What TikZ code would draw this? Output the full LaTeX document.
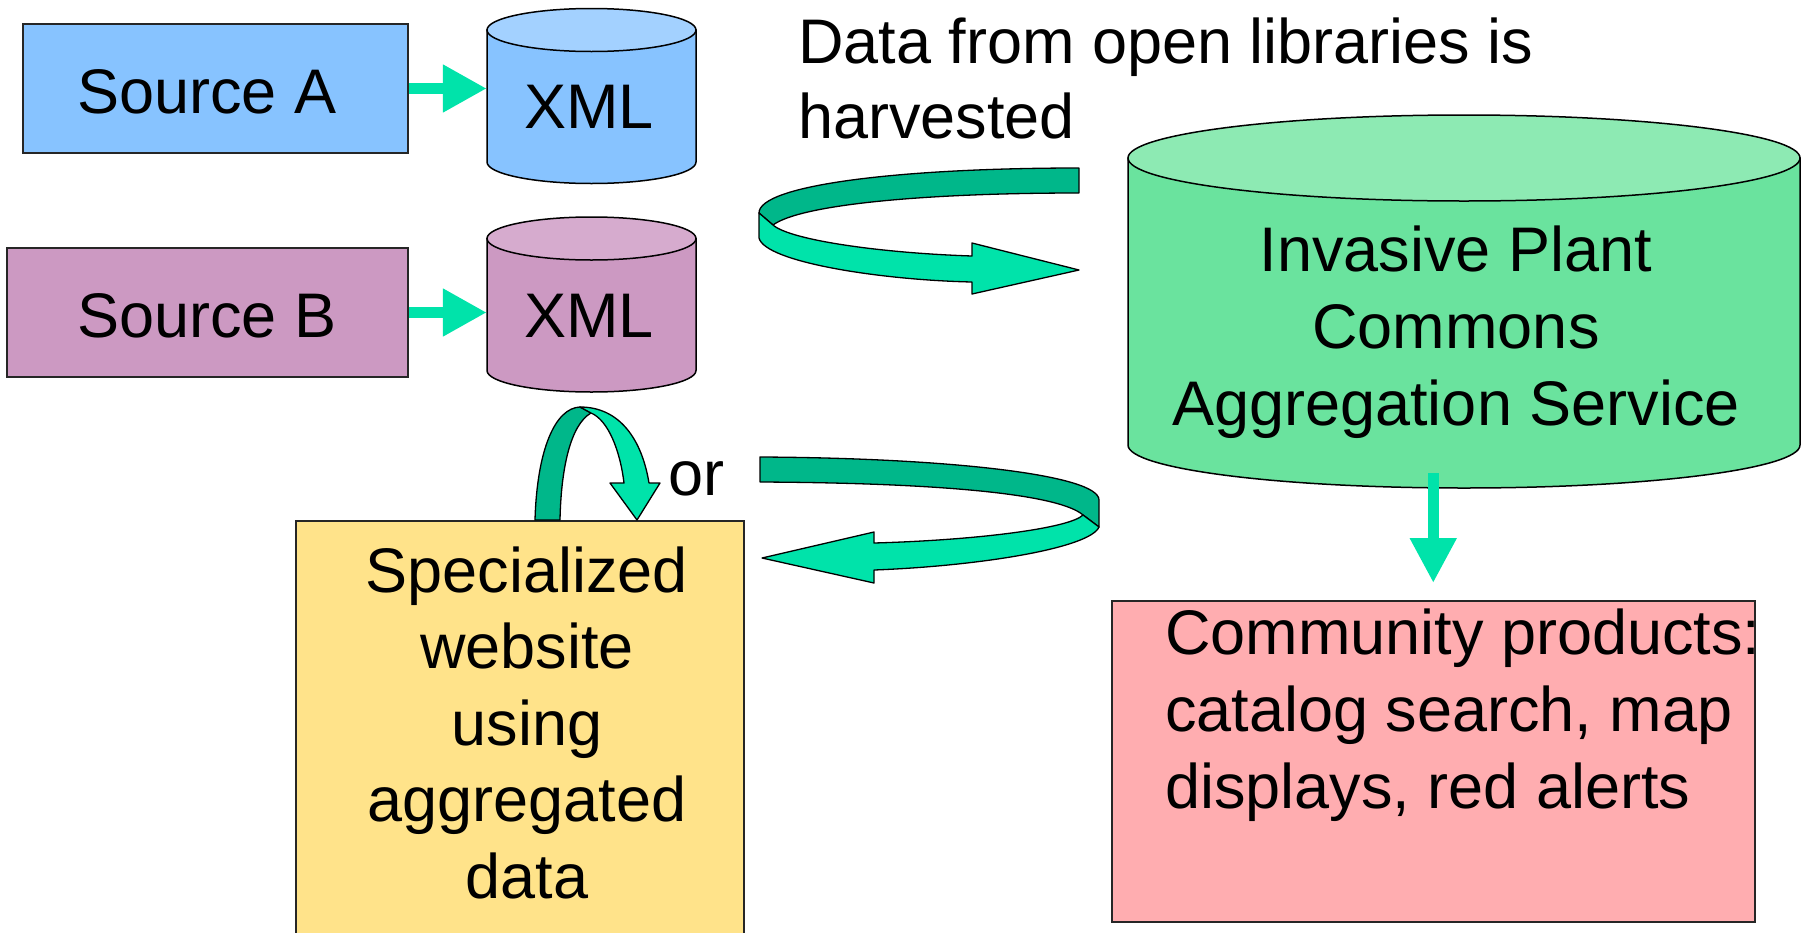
\documentclass[tikz,border=0pt]{standalone}
\usepackage{fontspec}
\setmainfont{Liberation Sans}
\usetikzlibrary{arrows.meta}
\definecolor{srcAcol}{HTML}{87C3FF}
\definecolor{srcAtop}{HTML}{A3D1FF}
\definecolor{srcBcol}{HTML}{CC99C2}
\definecolor{srcBtop}{HTML}{D6ABCE}
\definecolor{bigbody}{HTML}{6AE39E}
\definecolor{bigtop}{HTML}{8DEAB3}
\definecolor{commcol}{HTML}{FFADB0}
\definecolor{speccol}{HTML}{FFE38A}
\definecolor{arrowlight}{HTML}{00E3AA}
\definecolor{arrowdark}{HTML}{00B78A}
\begin{document}
\begin{tikzpicture}[x=1pt,y=1pt,
  box/.style={draw=black!85, line width=1.5pt, rectangle, inner sep=0pt},
  txt/.style={font=\fontsize{63}{77}\selectfont, inner sep=0pt, text=black},
  anchorbox/.style={inner sep=0pt, draw=none},
  cylout/.style={draw=black, line width=1.5pt},
  flatarrow/.style={draw=arrowlight, line width=11pt, -{Triangle[length=44pt,width=45pt]}},
  ribbon/.style={draw=black, line width=1.3pt, line join=round},
]
\useasboundingbox (0,0) rectangle (1804,-932);

% rectangles
\node[box, fill=srcAcol, minimum width=385pt, minimum height=129pt] (srcA) at (215.5,-88.5) {};
\node[box, fill=srcBcol, minimum width=401pt, minimum height=129pt] (srcB) at (207.5,-312.5) {};
\node[box, fill=speccol, minimum width=448pt, minimum height=440pt, anchor=north west] (spec) at (295,-520) {};
\node[box, fill=commcol, minimum width=643pt, minimum height=321pt, anchor=north west] (comm) at (1111,-600) {};

% cylinders (named frames + drawn shapes)
\node[anchorbox, minimum width=209pt, minimum height=175pt] (xmlA) at (591.5,-96) {};
\filldraw[cylout, fill=srcAcol] (487,-30) -- (487,-162) arc[start angle=180,end angle=360,x radius=104.5,y radius=21.5] -- (696,-30) -- cycle;
\filldraw[cylout, fill=srcAtop] (591.5,-30) ellipse[x radius=104.5, y radius=21.5];

\node[anchorbox, minimum width=209pt, minimum height=175pt] (xmlB) at (591.5,-304) {};
\filldraw[cylout, fill=srcBcol] (487,-238.5) -- (487,-370.5) arc[start angle=180,end angle=360,x radius=104.5,y radius=21.5] -- (696,-238.5) -- cycle;
\filldraw[cylout, fill=srcBtop] (591.5,-238.5) ellipse[x radius=104.5, y radius=21.5];

\node[anchorbox, minimum width=672pt, minimum height=373pt] (agg) at (1464,-301.5) {};
\filldraw[cylout, fill=bigbody] (1128,-158) -- (1128,-445) arc[start angle=180,end angle=360,x radius=336,y radius=43] -- (1800,-158) -- cycle;
\filldraw[cylout, fill=bigtop] (1464,-158) ellipse[x radius=336, y radius=43];

% straight arrows
\draw[flatarrow] (srcA.east) -- (srcA.east -| xmlA.west);
\draw[flatarrow] (srcB.east) -- (srcB.east -| xmlB.west);
\draw[flatarrow, -{Triangle[length=45pt,width=44pt]}] (comm.north |- 0,-473) -- ([yshift=17pt]comm.north);

% ribbon arrow: harvested into the aggregation service
\path[ribbon, fill=arrowdark] (1079,-168) .. controls (900,-168) and (759,-185) .. (759,-213) -- (773,-225) .. controls (800,-205) and (920,-193) .. (1079,-193) -- cycle;
\path[ribbon, fill=arrowlight] (759,-213) -- (759,-238) .. controls (765,-262) and (880,-280) .. (972,-282) -- (972,-294) -- (1079,-270) -- (972,-243) -- (972,-256) .. controls (880,-253) and (790,-240) .. (773,-225) -- cycle;

% ribbon arrow: back to the specialized website
\path[ribbon, fill=arrowdark] (760,-457) .. controls (950,-458) and (1099,-475) .. (1099,-500) -- (1099,-527) -- (1083,-515) .. controls (1060,-495) and (950,-483) .. (760,-482) -- cycle;
\path[ribbon, fill=arrowlight] (1083,-515) -- (1099,-527) .. controls (1090,-548) and (980,-566) .. (874,-570) -- (874,-583) -- (762,-558) -- (874,-532) -- (874,-543) .. controls (980,-540) and (1070,-528) .. (1083,-515) -- cycle;

% loop arrow on the specialized website
\path[ribbon, fill=arrowdark] (535,-520) .. controls (537,-450) and (555,-408) .. (580,-407) -- (591,-413) .. controls (570,-425) and (561,-470) .. (560,-520) -- cycle;
\path[ribbon, fill=arrowlight] (580,-407) .. controls (620,-407) and (642,-440) .. (649,-483) -- (660,-483) -- (637,-520) -- (610,-483) -- (624,-483) .. controls (620,-450) and (608,-420) .. (591,-413) -- cycle;

% texts (multi-line nodes: base anchor is at the last line)
\node[txt, anchor=base] (srcAlbl) at (207,-113) {Source A};
\node[txt, anchor=base] (srcBlbl) at (207,-337) {Source B};
\node[txt, anchor=base] (xmlAlbl) at (589,-128) {XML};
\node[txt, anchor=base] (xmlBlbl) at (589,-337) {XML};
\node[txt, anchor=base, align=center] (agglbl) at (1456,-425) {Invasive Plant\\Commons\\Aggregation Service};
\node[txt, font=\fontsize{63}{76.5}\selectfont, anchor=base, align=center] (speclbl) at (527,-898) {Specialized\\website\\using\\aggregated\\data};
\node[txt, anchor=base west, align=left] (commlbl) at (1165,-808) {Community products:\\catalog search, map\\displays, red alerts};
\node[txt, font=\fontsize{63}{75}\selectfont, anchor=base west, align=left] (harvlbl) at (798,-138) {Data from open libraries is\\harvested};
\node[txt, anchor=base west] (orlbl) at (668,-495) {or};
\end{tikzpicture}
\end{document}
